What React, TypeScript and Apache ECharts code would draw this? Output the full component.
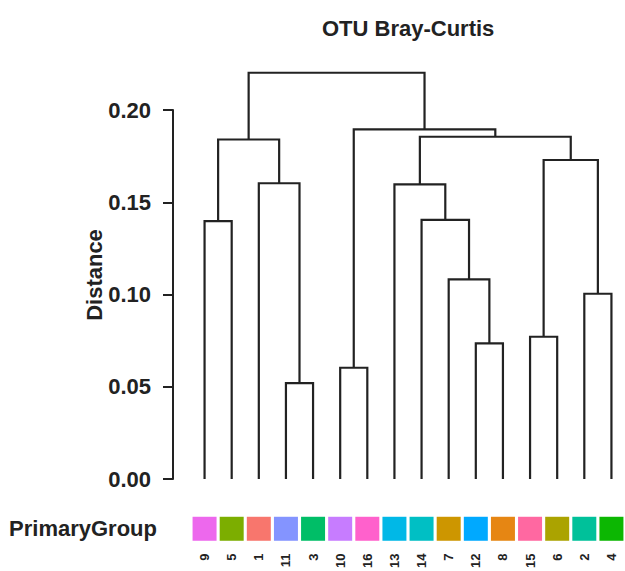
import React, { useEffect, useRef } from "react";
import * as echarts from "echarts";

// Leaves in dendrogram order (left to right)
const leafLabels = ["9", "5", "1", "11", "3", "10", "16", "13", "14", "7", "12", "8", "15", "6", "2", "4"];
const leafColors = [
  "#ED68ED", "#7CAE00", "#F8766D", "#8494FF", "#00BE67", "#C77CFF", "#FF61CC", "#00B8E7",
  "#00BFC4", "#CD9600", "#00A9FF", "#E68613", "#FF68A1", "#ABA300", "#00C19A", "#0CB702",
];
// Merges (hclust style): negative = leaf position (-(i+1)), positive = earlier merge (1-based)
const mergeLeft = [-4, -6, -11, -13, -15, -10, -1, -9, -8, -3, 4, 7, 9, 2, 12];
const mergeRight = [-5, -7, -12, -14, -16, 3, -2, 6, 8, 1, 5, 10, 11, 13, 14];
const mergeHeight = [0.052, 0.0603, 0.0735, 0.0771, 0.1004, 0.1082, 0.1398, 0.1404, 0.1597, 0.1603, 0.1729, 0.1840, 0.1855, 0.1895, 0.2202];
const yTicks = [0, 0.05, 0.1, 0.15, 0.2];

const FONT = "'Liberation Sans', Arial, Helvetica, sans-serif";
const INK = "#222222";

function buildSegments() {
  const pos: number[] = [];
  const hgt: number[] = [];
  const node = (id: number) => (id < 0 ? { x: -id - 1, h: 0 } : { x: pos[id - 1], h: hgt[id - 1] });
  const segs: number[][] = [];
  for (let i = 0; i < mergeHeight.length; i++) {
    const a = node(mergeLeft[i]);
    const b = node(mergeRight[i]);
    const h = mergeHeight[i];
    segs.push([a.x, a.h, b.x, b.h, h]);
    pos.push((a.x + b.x) / 2);
    hgt.push(h);
  }
  return segs;
}

export default function App() {
  const ref = useRef<HTMLDivElement>(null);
  useEffect(() => {
    if (!ref.current) return;
    const chart = echarts.init(ref.current, undefined, { renderer: "svg" });
    const segs = buildSegments();
    chart.setOption({
      animation: false,
      backgroundColor: "#ffffff",
      title: {
        text: "OTU Bray-Curtis",
        left: 317,
        top: 12,
        textStyle: { fontSize: 22, fontWeight: "bold", color: INK, fontFamily: FONT },
      },
      graphic: [
        {
          type: "text",
          x: 94,
          y: 275,
          rotation: Math.PI / 2,
          style: {
            text: "Distance",
            fill: INK,
            font: `bold 22px ${FONT}`,
            textAlign: "center",
            textVerticalAlign: "middle",
          },
        },
      ],
      grid: [
        { left: 191, right: 0, top: 110, bottom: 92 },
        { left: 191, right: 0, top: 518, height: 24 },
      ],
      xAxis: [
        { type: "value", gridIndex: 0, min: -0.5, max: 15.5, show: false },
        {
          type: "category",
          gridIndex: 1,
          data: leafLabels,
          axisLine: { show: false },
          axisTick: { show: false },
          axisLabel: { rotate: 90, fontSize: 13, fontWeight: "bold", color: INK, fontFamily: FONT, margin: 14, interval: 0 },
        },
      ],
      yAxis: [
        {
          type: "value",
          gridIndex: 0,
          min: yTicks[0],
          max: yTicks[yTicks.length - 1],
          interval: 0.05,
          offset: 18,
          axisLine: { show: true, onZero: false, lineStyle: { color: INK, width: 2 } },
          axisTick: { show: true, length: 10, lineStyle: { color: INK, width: 2 } },
          axisLabel: {
            fontSize: 22,
            fontWeight: "bold",
            color: INK,
            fontFamily: FONT,
            margin: 22,
            formatter: (v: number) => v.toFixed(2),
          },
          splitLine: { show: false },
        },
        {
          type: "category",
          gridIndex: 1,
          data: ["PrimaryGroup"],
          axisLine: { show: false },
          axisTick: { show: false },
          axisLabel: { fontSize: 22, fontWeight: "bold", color: INK, fontFamily: FONT, margin: 34 },
        },
      ],
      series: [
        {
          type: "custom",
          xAxisIndex: 0,
          yAxisIndex: 0,
          clip: false,
          data: segs,
          renderItem: (_params: any, api: any) => {
            const p1 = api.coord([api.value(0), api.value(1)]);
            const p2 = api.coord([api.value(0), api.value(4)]);
            const p3 = api.coord([api.value(2), api.value(4)]);
            const p4 = api.coord([api.value(2), api.value(3)]);
            return {
              type: "polyline",
              shape: { points: [p1, p2, p3, p4] },
              style: { stroke: INK, lineWidth: 2.2, fill: "none" },
            };
          },
        },
        {
          type: "custom",
          xAxisIndex: 1,
          yAxisIndex: 1,
          data: leafColors.map((c, i) => ({ value: [i, 0], itemStyle: { color: c } })),
          renderItem: (_params: any, api: any) => {
            const c = api.coord([api.value(0), api.value(1)]);
            return {
              type: "rect",
              shape: { x: c[0] - 12, y: c[1] - 12, width: 24, height: 24 },
              style: { fill: api.visual("color") },
            };
          },
        },
      ],
    });
    return () => chart.dispose();
  }, []);
  return (
    <div
      ref={ref}
      style={{ position: "fixed", left: 0, top: 0, width: 625, height: 571, background: "#fff" }}
    />
  );
}
